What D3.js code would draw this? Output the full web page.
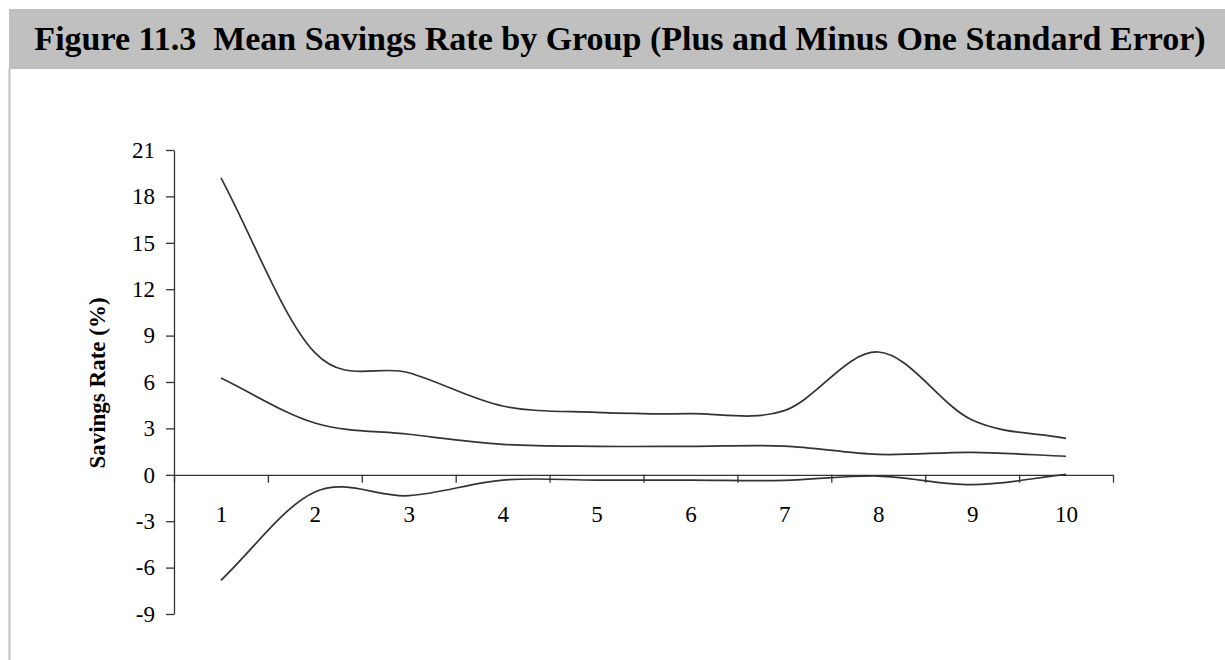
<!DOCTYPE html>
<html><head><meta charset="utf-8">
<script src="https://cdn.jsdelivr.net/npm/d3@7"></script>
<style>body{margin:0;background:#fff} svg{display:block}</style>
</head><body><svg id="c" width="1225" height="660"></svg>
<script>
// ---- data ----
const groups = [1, 2, 3, 4, 5, 6, 7, 8, 9, 10];
const upperValues = [19.2, 7.9, 6.6, 4.45, 4.04, 3.95, 4.15, 7.94, 3.54, 2.36];
const meanValues  = [6.26, 3.35, 2.62, 1.97, 1.84, 1.84, 1.86, 1.32, 1.45, 1.2];
const lowerValues = [-6.82, -1.11, -1.35, -0.34, -0.34, -0.34, -0.36, -0.08, -0.64, 0.03];
const yTicks = [-9, -6, -3, 0, 3, 6, 9, 12, 15, 18, 21];
const xBoundaryTicks = [0.5, 1.5, 2.5, 3.5, 4.5, 5.5, 6.5, 7.5, 8.5, 9.5, 10.5];
const titleText = "Figure 11.3  Mean Savings Rate by Group (Plus and Minus One Standard Error)";
const yTitle = "Savings Rate (%)";

// Excel-like smoothed line (Catmull-Rom, reflected end points)
function ExcelSmooth(context){ this._context = context; }
ExcelSmooth.prototype = {
  areaStart(){}, areaEnd(){},
  lineStart(){ this._pts = []; },
  point(x, y){ this._pts.push([+x, +y]); },
  lineEnd(){
    const p = this._pts, n = p.length, c = this._context;
    if (!n) return;
    c.moveTo(p[0][0], p[0][1]);
    if (n === 2) { c.lineTo(p[1][0], p[1][1]); return; }
    for (let i = 0; i < n - 1; i++) {
      const a = i > 0 ? p[i-1] : [2*p[0][0]-p[1][0], 2*p[0][1]-p[1][1]];
      const b = p[i], d = p[i+1];
      const e = i + 2 < n ? p[i+2] : [2*p[n-1][0]-p[n-2][0], 2*p[n-1][1]-p[n-2][1]];
      c.bezierCurveTo(b[0]+(d[0]-a[0])/6, b[1]+(d[1]-a[1])/6,
                      d[0]-(e[0]-b[0])/6, d[1]-(e[1]-b[1])/6, d[0], d[1]);
    }
  }
};
const curveExcel = ctx => new ExcelSmooth(ctx);

const svg = d3.select("#c");
const FONT = "'Liberation Serif', 'Times New Roman', serif";

// banner
svg.append("rect").attr("x", 9).attr("y", 9).attr("width", 1216).attr("height", 60).attr("fill", "#c0c0c0");
svg.append("line").attr("x1", 9.5).attr("x2", 9.5).attr("y1", 69).attr("y2", 660)
  .attr("stroke", "#c0c0c0").attr("stroke-width", 2);
svg.append("text").attr("x", 620).attr("y", 50).attr("text-anchor", "middle")
  .style("white-space", "pre").attr("font-family", FONT).attr("font-weight", "bold")
  .attr("font-size", 34).attr("fill", "#000").text(titleText);

const x = d3.scaleLinear().domain([0.5, 10.5]).range([174, 1113]);
const y = d3.scaleLinear().domain([-9, 21]).range([614, 150]);
const AX = "#333";

// y axis
const gy = svg.append("g").attr("transform", "translate(174,0)")
  .call(d3.axisLeft(y).tickValues(yTicks).tickSize(8).tickSizeOuter(0).tickPadding(11).tickFormat(d => String(d)));
gy.attr("font-family", FONT).attr("font-size", 23);
gy.selectAll("path,line").attr("stroke", AX).attr("stroke-width", 1.3);
gy.selectAll("text").attr("fill", "#000");

// x axis (ticks at group boundaries)
const gx = svg.append("g").attr("transform", `translate(0,${y(0)})`)
  .call(d3.axisBottom(x).tickValues(xBoundaryTicks).tickSize(8).tickSizeOuter(0).tickFormat(""));
gx.selectAll("path,line").attr("stroke", AX).attr("stroke-width", 1.3);

// x labels at group centers
const gxl = svg.append("g").attr("transform", `translate(0,${y(0)})`)
  .call(d3.axisBottom(x).tickValues(groups).tickSize(0).tickPadding(31).tickFormat(d => String(d)));
gxl.select(".domain").remove();
gxl.attr("font-family", FONT).attr("font-size", 23);
gxl.selectAll("text").attr("fill", "#000");

// y title
svg.append("text").attr("transform", "translate(105,383) rotate(-90)")
  .attr("text-anchor", "middle").attr("font-family", FONT).attr("font-weight", "bold")
  .attr("font-size", 23).attr("fill", "#000").text(yTitle);

// lines
const line = d3.line().x((d, i) => x(groups[i])).y(d => y(d)).curve(curveExcel);
[upperValues, meanValues, lowerValues].forEach(vals => {
  svg.append("path").attr("d", line(vals)).attr("fill", "none")
    .attr("stroke", "#333").attr("stroke-width", 1.7);
});
</script>
</body></html>
